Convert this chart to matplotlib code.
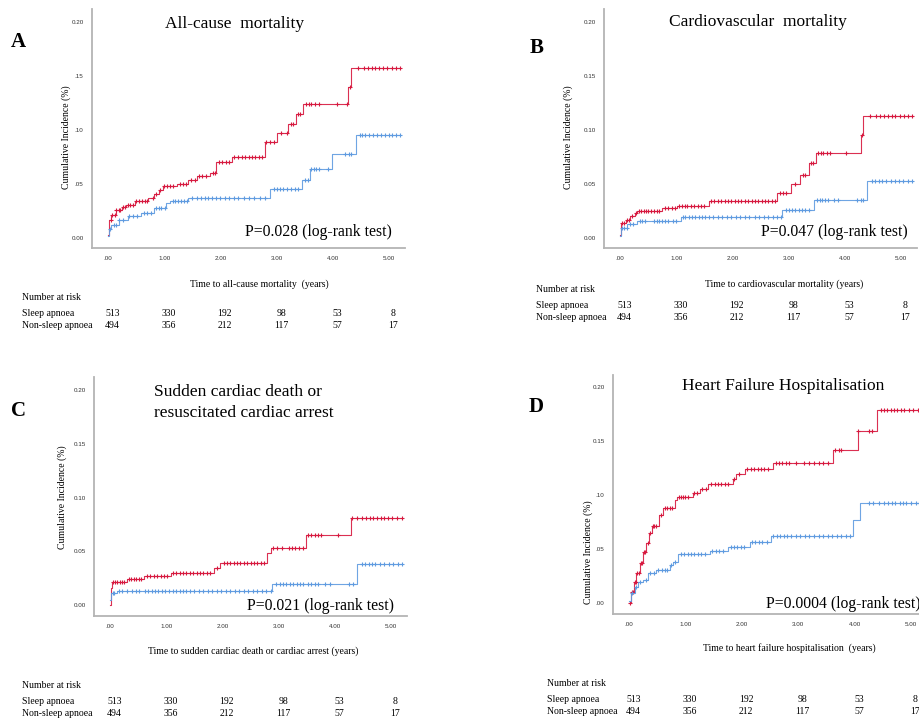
import numpy as np
import matplotlib.pyplot as plt
from matplotlib.transforms import blended_transform_factory

W, H = 919, 718
RED = '#d7193f'
BLUE = '#5f9be0'

# ---- data ----
# step curves: event times (years) and cumulative incidence after each step
a_red_t = [0, 0.02, 0.06, 0.15, 0.25, 0.32, 0.48, 0.72, 0.81, 0.90, 0.98, 1.22, 1.43, 1.58, 1.81, 1.93, 2.20, 2.79, 3.00, 3.20, 3.35, 3.47, 4.27, 4.32]
a_red_v = [0.003, 0.017, 0.021, 0.026, 0.029, 0.031, 0.034, 0.037, 0.041, 0.044, 0.048, 0.050, 0.054, 0.057, 0.060, 0.070, 0.075, 0.089, 0.097, 0.106, 0.115, 0.124, 0.140, 0.157]
a_blue_t = [0, 0.02, 0.06, 0.20, 0.36, 0.58, 0.81, 1.04, 1.10, 1.43, 2.88, 3.45, 3.59, 3.98, 4.42]
a_blue_v = [0.002, 0.008, 0.012, 0.017, 0.020, 0.0235, 0.0275, 0.032, 0.034, 0.037, 0.045, 0.054, 0.064, 0.078, 0.095]
a_red_c = [0.05, 0.08, 0.12, 0.15, 0.19, 0.22, 0.26, 0.30, 0.35, 0.40, 0.45, 0.50, 0.55, 0.60, 0.65, 0.70, 0.80, 0.86, 0.92, 1.00, 1.05, 1.10, 1.15, 1.28, 1.33, 1.38, 1.48, 1.55, 1.62, 1.68, 1.74, 1.86, 1.90, 1.97, 2.03, 2.10, 2.16, 2.25, 2.32, 2.38, 2.44, 2.50, 2.56, 2.62, 2.68, 2.74, 2.82, 2.88, 2.95, 3.08, 3.18, 3.25, 3.30, 3.38, 3.42, 3.52, 3.57, 3.62, 3.68, 3.75, 4.08, 4.26, 4.30, 4.45, 4.55, 4.62, 4.70, 4.75, 4.82, 4.90, 4.97, 5.05, 5.12, 5.20]
a_blue_c = [0.04, 0.10, 0.15, 0.20, 0.26, 0.38, 0.45, 0.52, 0.64, 0.70, 0.76, 0.85, 0.90, 0.95, 1.02, 1.15, 1.20, 1.25, 1.30, 1.35, 1.40, 1.50, 1.58, 1.65, 1.72, 1.78, 1.85, 1.92, 2.00, 2.08, 2.15, 2.25, 2.32, 2.42, 2.50, 2.60, 2.70, 2.80, 2.95, 3.00, 3.06, 3.12, 3.18, 3.25, 3.32, 3.38, 3.50, 3.55, 3.62, 3.66, 3.70, 3.76, 3.92, 4.22, 4.28, 4.32, 4.48, 4.52, 4.58, 4.65, 4.72, 4.78, 4.85, 4.92, 5.00, 5.06, 5.12, 5.20]

b_red_t = [0, 0.02, 0.10, 0.18, 0.26, 0.31, 0.75, 1.02, 1.58, 2.80, 3.04, 3.21, 3.36, 3.48, 4.28, 4.33]
b_red_v = [0.003, 0.014, 0.017, 0.020, 0.023, 0.025, 0.0275, 0.030, 0.0345, 0.042, 0.050, 0.058, 0.069, 0.079, 0.095, 0.113]
b_blue_t = [0, 0.02, 0.13, 0.31, 1.08, 2.89, 3.45, 4.40]
b_blue_v = [0.002, 0.009, 0.013, 0.016, 0.019, 0.026, 0.0355, 0.0525]
b_red_c = [0.04, 0.08, 0.12, 0.16, 0.22, 0.28, 0.34, 0.38, 0.42, 0.46, 0.50, 0.55, 0.60, 0.65, 0.70, 0.80, 0.86, 0.92, 0.98, 1.05, 1.10, 1.15, 1.20, 1.26, 1.32, 1.38, 1.44, 1.50, 1.62, 1.68, 1.74, 1.80, 1.86, 1.92, 1.98, 2.04, 2.10, 2.16, 2.22, 2.28, 2.34, 2.40, 2.46, 2.52, 2.58, 2.64, 2.70, 2.76, 2.84, 2.90, 2.96, 3.12, 3.26, 3.30, 3.40, 3.44, 3.52, 3.58, 3.62, 3.68, 3.74, 4.02, 4.30, 4.45, 4.55, 4.62, 4.70, 4.76, 4.84, 4.90, 4.98, 5.06, 5.12, 5.20]
b_blue_c = [0.04, 0.08, 0.12, 0.18, 0.24, 0.35, 0.40, 0.45, 0.60, 0.65, 0.70, 0.75, 0.80, 0.85, 0.95, 1.00, 1.12, 1.16, 1.22, 1.28, 1.34, 1.40, 1.46, 1.52, 1.58, 1.66, 1.74, 1.82, 1.90, 1.98, 2.06, 2.14, 2.22, 2.30, 2.40, 2.48, 2.56, 2.64, 2.72, 2.80, 2.86, 2.95, 3.00, 3.06, 3.12, 3.18, 3.24, 3.30, 3.36, 3.50, 3.55, 3.60, 3.64, 3.70, 3.80, 3.88, 4.22, 4.28, 4.33, 4.48, 4.54, 4.60, 4.66, 4.74, 4.82, 4.90, 4.96, 5.04, 5.12, 5.20]

c_red_t = [0, 0.012, 0.04, 0.31, 0.61, 1.08, 1.85, 1.96, 2.80, 2.86, 3.48, 4.28]
c_red_v = [0.0, 0.0155, 0.0217, 0.0245, 0.027, 0.030, 0.034, 0.0388, 0.048, 0.0533, 0.065, 0.0806]
c_blue_t = [0, 0.02, 0.13, 2.89, 4.40]
c_blue_v = [0.005, 0.011, 0.0133, 0.020, 0.038]
c_red_c = [0.05, 0.09, 0.13, 0.17, 0.21, 0.25, 0.34, 0.38, 0.42, 0.47, 0.52, 0.56, 0.66, 0.72, 0.78, 0.84, 0.90, 0.96, 1.02, 1.12, 1.18, 1.24, 1.30, 1.36, 1.42, 1.48, 1.54, 1.60, 1.66, 1.72, 1.78, 1.90, 2.02, 2.08, 2.14, 2.20, 2.26, 2.32, 2.38, 2.44, 2.50, 2.56, 2.62, 2.68, 2.74, 2.90, 2.98, 3.06, 3.18, 3.24, 3.30, 3.36, 3.44, 3.52, 3.58, 3.64, 3.70, 3.76, 4.06, 4.30, 4.40, 4.48, 4.55, 4.62, 4.68, 4.75, 4.82, 4.88, 4.95, 5.02, 5.10, 5.20]
c_blue_c = [0.05, 0.08, 0.16, 0.22, 0.30, 0.40, 0.46, 0.52, 0.62, 0.68, 0.74, 0.80, 0.86, 0.92, 0.98, 1.05, 1.12, 1.18, 1.24, 1.30, 1.36, 1.42, 1.50, 1.58, 1.66, 1.74, 1.82, 1.90, 1.98, 2.06, 2.14, 2.22, 2.30, 2.38, 2.46, 2.54, 2.62, 2.70, 2.78, 2.86, 2.95, 3.02, 3.08, 3.14, 3.20, 3.26, 3.32, 3.38, 3.44, 3.52, 3.58, 3.64, 3.70, 3.82, 3.92, 4.26, 4.32, 4.48, 4.54, 4.60, 4.66, 4.72, 4.80, 4.88, 4.96, 5.04, 5.12, 5.20]

d_red_t = [0, 0.04, 0.08, 0.13, 0.19, 0.25, 0.31, 0.355, 0.40, 0.54, 0.60, 0.81, 0.85, 1.13, 1.25, 1.40, 1.84, 1.90, 2.05, 2.55, 3.62, 4.06, 4.39]
d_red_v = [0.0, 0.0105, 0.0196, 0.0275, 0.0367, 0.0475, 0.0552, 0.0645, 0.0713, 0.0815, 0.0877, 0.095, 0.098, 0.1016, 0.106, 0.110, 0.115, 0.119, 0.124, 0.130, 0.142, 0.159, 0.179]
d_blue_t = [0, 0.04, 0.10, 0.16, 0.25, 0.34, 0.48, 0.72, 0.78, 0.87, 1.43, 1.75, 2.14, 2.52, 3.98, 4.10]
d_blue_v = [0.002, 0.0096, 0.015, 0.019, 0.0213, 0.028, 0.0306, 0.035, 0.038, 0.045, 0.048, 0.052, 0.0568, 0.062, 0.077, 0.093]
d_red_c = [0.02, 0.05, 0.07, 0.10, 0.12, 0.15, 0.17, 0.21, 0.23, 0.27, 0.29, 0.33, 0.37, 0.42, 0.45, 0.48, 0.57, 0.64, 0.68, 0.72, 0.76, 0.88, 0.92, 0.96, 1.00, 1.05, 1.16, 1.20, 1.30, 1.36, 1.46, 1.52, 1.58, 1.64, 1.70, 1.76, 1.86, 1.95, 2.10, 2.16, 2.22, 2.28, 2.34, 2.40, 2.46, 2.60, 2.66, 2.72, 2.78, 2.84, 2.96, 3.10, 3.20, 3.28, 3.36, 3.44, 3.52, 3.66, 3.72, 3.76, 4.06, 4.26, 4.30, 4.46, 4.52, 4.58, 4.64, 4.70, 4.76, 4.82, 4.88, 4.96, 5.04, 5.12]
d_blue_c = [0.06, 0.12, 0.20, 0.30, 0.38, 0.44, 0.52, 0.58, 0.64, 0.68, 0.75, 0.82, 0.92, 0.98, 1.04, 1.10, 1.16, 1.22, 1.28, 1.34, 1.48, 1.54, 1.60, 1.66, 1.80, 1.86, 1.92, 1.98, 2.04, 2.18, 2.24, 2.30, 2.36, 2.44, 2.56, 2.62, 2.68, 2.74, 2.80, 2.88, 2.96, 3.04, 3.12, 3.20, 3.28, 3.36, 3.44, 3.52, 3.60, 3.68, 3.76, 3.84, 3.92, 4.26, 4.32, 4.44, 4.52, 4.60, 4.66, 4.72, 4.80, 4.86, 4.92, 5.00, 5.08, 5.14]

ticks_x = [0, 1, 2, 3, 4, 5]
xtick_labels = ['.00', '1.00', '2.00', '3.00', '4.00', '5.00']
ticks_y = [0, 0.05, 0.10, 0.15, 0.20]
sleep_risk = [513, 330, 192, 98, 53, 8]
non_sleep_risk = [494, 356, 212, 117, 57, 17]

fig = plt.figure(figsize=(W / 100, H / 100), dpi=100)
fig.patch.set_facecolor('white')
SERIF = 'Liberation Serif'
SANS = 'Liberation Sans'


def ftext(x, y, s, **kw):
    fig.text(x / W, 1 - y / H, s, **kw)


def step_values(ts, vs, cs):
    idx = np.searchsorted(ts, cs, side='right') - 1
    return np.array(vs)[idx]


def draw_panel(px0, py0, py1, x0pix, x5pix, y0pix, y20pix, curves, ylabels):
    # axes placed so that the tick positions land on the reference pixels
    ux = (x5pix - x0pix) / 5.0
    uy = (y0pix - y20pix) / 0.2
    px1 = x5pix + 16
    ax = fig.add_axes([px0 / W, 1 - py1 / H, (px1 - px0) / W, (py1 - py0) / H])
    ax.set_xlim(-(x0pix - px0) / ux, 5 + (px1 - x5pix) / ux)
    ax.set_ylim(-(py1 - y0pix) / uy, (y0pix - py0) / uy)
    for ts, vs, cs, col in curves:
        end = max(cs)
        ax.step(list(ts) + [end], list(vs) + [vs[-1]], where='post', color=col, lw=0.8, alpha=0.9)
        ax.plot(cs, step_values(ts, vs, cs), ls='none', marker='+', ms=3.3, mew=0.8, color=col)
    for s in ['top', 'right']:
        ax.spines[s].set_visible(False)
    for s in ['left', 'bottom']:
        ax.spines[s].set_color('#b4b4b4')
        ax.spines[s].set_linewidth(1.3)
    ax.set_xticks(ticks_x)
    ax.set_xticklabels(xtick_labels)
    ax.set_yticks(ticks_y)
    ax.set_yticklabels(ylabels)
    ax.tick_params(length=0, labelsize=4.5, labelcolor='#333333', pad=6)
    for lab in ax.get_xticklabels() + ax.get_yticklabels():
        lab.set_family(SANS)
    return ax


def risk_table(ax, lx, y_head, y1, y2):
    ftext(lx, y_head, 'Number at risk', family=SERIF, fontsize=7, va='center')
    ftext(lx, y1, 'Sleep apnoea', family=SERIF, fontsize=7, va='center')
    ftext(lx, y2, 'Non-sleep apnoea', family=SERIF, fontsize=7, va='center')
    tr = blended_transform_factory(ax.transData, fig.transFigure)
    for t, a, b in zip(ticks_x, sleep_risk, non_sleep_risk):
        ax.text(t + 0.08, 1 - y1 / H, str(a), transform=tr, family=SERIF, fontsize=7, ha='center', va='center', clip_on=False)
        ax.text(t + 0.08, 1 - y2 / H, str(b), transform=tr, family=SERIF, fontsize=7, ha='center', va='center', clip_on=False)


# Panel A
axA = draw_panel(92, 9, 248, 108, 389, 238, 22,
                 [(a_red_t, a_red_v, a_red_c, RED), (a_blue_t, a_blue_v, a_blue_c, BLUE)],
                 ['0.00', '.05', '.10', '.15', '0.20'])
ftext(18, 42, 'A', family=SERIF, fontsize=15, fontweight='bold', ha='center', va='center')
ftext(235, 24, 'All-cause  mortality', family=SERIF, fontsize=12.5, ha='center', va='center')
ftext(66, 137, 'Cumulative Incidence (%)', family=SERIF, fontsize=7, rotation=90, ha='center', va='center')
ftext(392, 232, 'P=0.028 (log-rank test)', family=SERIF, fontsize=11.3, ha='right', va='center')
ftext(259, 284, 'Time to all-cause mortality  (years)', family=SERIF, fontsize=7, ha='center', va='center')
risk_table(axA, 22, 298, 313, 325)

# Panel B
axB = draw_panel(604, 9, 248, 620, 901, 238, 22,
                 [(b_red_t, b_red_v, b_red_c, RED), (b_blue_t, b_blue_v, b_blue_c, BLUE)],
                 ['0.00', '0.05', '0.10', '0.15', '0.20'])
ftext(537, 48, 'B', family=SERIF, fontsize=15, fontweight='bold', ha='center', va='center')
ftext(758, 22, 'Cardiovascular  mortality', family=SERIF, fontsize=12.5, ha='center', va='center')
ftext(568, 137, 'Cumulative Incidence (%)', family=SERIF, fontsize=7, rotation=90, ha='center', va='center')
ftext(908, 232, 'P=0.047 (log-rank test)', family=SERIF, fontsize=11.3, ha='right', va='center')
ftext(784, 284, 'Time to cardiovascular mortality (years)', family=SERIF, fontsize=7, ha='center', va='center')
risk_table(axB, 536, 290, 306, 318)

# Panel C
axC = draw_panel(94, 377, 616, 110, 391, 605, 390,
                 [(c_red_t, c_red_v, c_red_c, RED), (c_blue_t, c_blue_v, c_blue_c, BLUE)],
                 ['0.00', '0.05', '0.10', '0.15', '0.20'])
ftext(18, 411, 'C', family=SERIF, fontsize=15, fontweight='bold', ha='center', va='center')
ftext(154, 392, 'Sudden cardiac death or', family=SERIF, fontsize=12.5, ha='left', va='center')
ftext(154, 413, 'resuscitated cardiac arrest', family=SERIF, fontsize=12.5, ha='left', va='center')
ftext(62, 497, 'Cumulative Incidence (%)', family=SERIF, fontsize=7, rotation=90, ha='center', va='center')
ftext(394, 606, 'P=0.021 (log-rank test)', family=SERIF, fontsize=11.3, ha='right', va='center')
ftext(253, 651, 'Time to sudden cardiac death or cardiac arrest (years)', family=SERIF, fontsize=7, ha='center', va='center')
risk_table(axC, 22, 686, 702, 713)

# Panel D (the reference itself is cut at the right edge)
axD = draw_panel(613, 375, 614, 629, 911, 603, 387,
                 [(d_red_t, d_red_v, d_red_c, RED), (d_blue_t, d_blue_v, d_blue_c, BLUE)],
                 ['.00', '.05', '.10', '0.15', '0.20'])
ftext(536, 407, 'D', family=SERIF, fontsize=15, fontweight='bold', ha='center', va='center')
ftext(783, 386, 'Heart Failure Hospitalisation', family=SERIF, fontsize=12.5, ha='center', va='center')
ftext(588, 552, 'Cumulative Incidence (%)', family=SERIF, fontsize=7, rotation=90, ha='center', va='center')
ftext(921, 604, 'P=0.0004 (log-rank test)', family=SERIF, fontsize=11.3, ha='right', va='center')
ftext(789, 648, 'Time to heart failure hospitalisation  (years)', family=SERIF, fontsize=7, ha='center', va='center')
risk_table(axD, 547, 684, 700, 712)

fig.savefig('out.png', dpi=100)
